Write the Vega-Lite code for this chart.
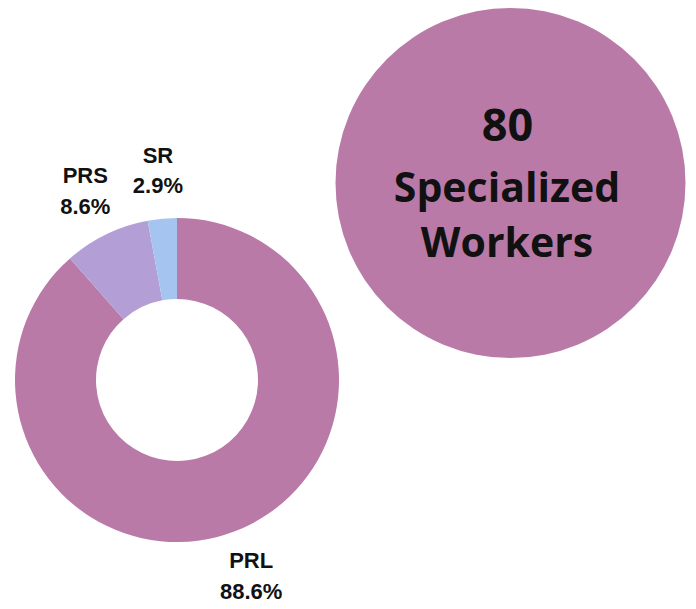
{
  "$schema": "https://vega.github.io/schema/vega-lite/v6.json",
  "width": 696,
  "height": 609,
  "autosize": {"type": "none"},
  "padding": 0,
  "background": "#ffffff",
  "config": {"view": {"stroke": null}},
  "datasets": {
    "parts": [
      {"cat": "PRL", "pct": 88.6},
      {"cat": "PRS", "pct": 8.6},
      {"cat": "SR", "pct": 2.9}
    ],
    "total": [{"count": "80", "line1": "Specialized", "line2": "Workers"}]
  },
  "layer": [
    {
      "data": {"name": "total"},
      "mark": {"type": "point", "shape": "circle", "filled": true, "size": 122500, "opacity": 1, "color": "#b97aa7", "clip": true},
      "encoding": {
        "x": {"datum": 510.5, "type": "quantitative", "scale": {"domain": [0, 696], "nice": false, "zero": false}, "axis": null},
        "y": {"datum": 183, "type": "quantitative", "scale": {"domain": [609, 0], "nice": false, "zero": false}, "axis": null}
      }
    },
    {
      "data": {"name": "total"},
      "mark": {"type": "text", "font": "Open Sans", "fontWeight": "bold", "fontSize": 45, "align": "center", "baseline": "alphabetic", "color": "#111111"},
      "encoding": {
        "x": {"datum": 507.5, "type": "quantitative"},
        "y": {"datum": 141, "type": "quantitative"},
        "text": {"field": "count"}
      }
    },
    {
      "data": {"name": "total"},
      "mark": {"type": "text", "font": "Open Sans", "fontWeight": "bold", "fontSize": 41, "align": "center", "baseline": "alphabetic", "color": "#111111"},
      "encoding": {
        "x": {"datum": 507, "type": "quantitative"},
        "y": {"datum": 202, "type": "quantitative"},
        "text": {"field": "line1"}
      }
    },
    {
      "data": {"name": "total"},
      "mark": {"type": "text", "font": "Open Sans", "fontWeight": "bold", "fontSize": 41, "align": "center", "baseline": "alphabetic", "color": "#111111"},
      "encoding": {
        "x": {"datum": 507, "type": "quantitative"},
        "y": {"datum": 257, "type": "quantitative"},
        "text": {"field": "line2"}
      }
    },
    {
      "data": {"name": "parts"},
      "mark": {"type": "arc", "outerRadius": 162, "innerRadius": 81},
      "encoding": {
        "x": {"datum": 177, "type": "quantitative"},
        "y": {"datum": 380, "type": "quantitative"},
        "theta": {"field": "pct", "type": "quantitative", "stack": true},
        "order": {"field": "cat"},
        "color": {"field": "cat", "type": "nominal", "scale": {"domain": ["PRL", "PRS", "SR"], "range": ["#b97aa7", "#b39ed6", "#a6c4f0"]}, "legend": null}
      }
    },
    {
      "data": {"name": "parts"},
      "mark": {"type": "text", "radius": 210, "font": "Liberation Sans", "fontWeight": "bold", "fontSize": 22, "align": "center", "baseline": "alphabetic", "dy": -8, "color": "#111111"},
      "encoding": {
        "x": {"datum": 177, "type": "quantitative"},
        "y": {"datum": 380, "type": "quantitative"},
        "theta": {"field": "pct", "type": "quantitative", "stack": true},
        "order": {"field": "cat"},
        "text": {"field": "cat"}
      }
    },
    {
      "data": {"name": "parts"},
      "transform": [{"calculate": "format(datum.pct, '.1f') + '%'", "as": "plab"}],
      "mark": {"type": "text", "radius": 210, "font": "Liberation Sans", "fontWeight": "bold", "fontSize": 22, "align": "center", "baseline": "alphabetic", "dy": 22.5, "color": "#111111"},
      "encoding": {
        "x": {"datum": 177, "type": "quantitative"},
        "y": {"datum": 380, "type": "quantitative"},
        "theta": {"field": "pct", "type": "quantitative", "stack": true},
        "order": {"field": "cat"},
        "text": {"field": "plab"}
      }
    }
  ]
}
